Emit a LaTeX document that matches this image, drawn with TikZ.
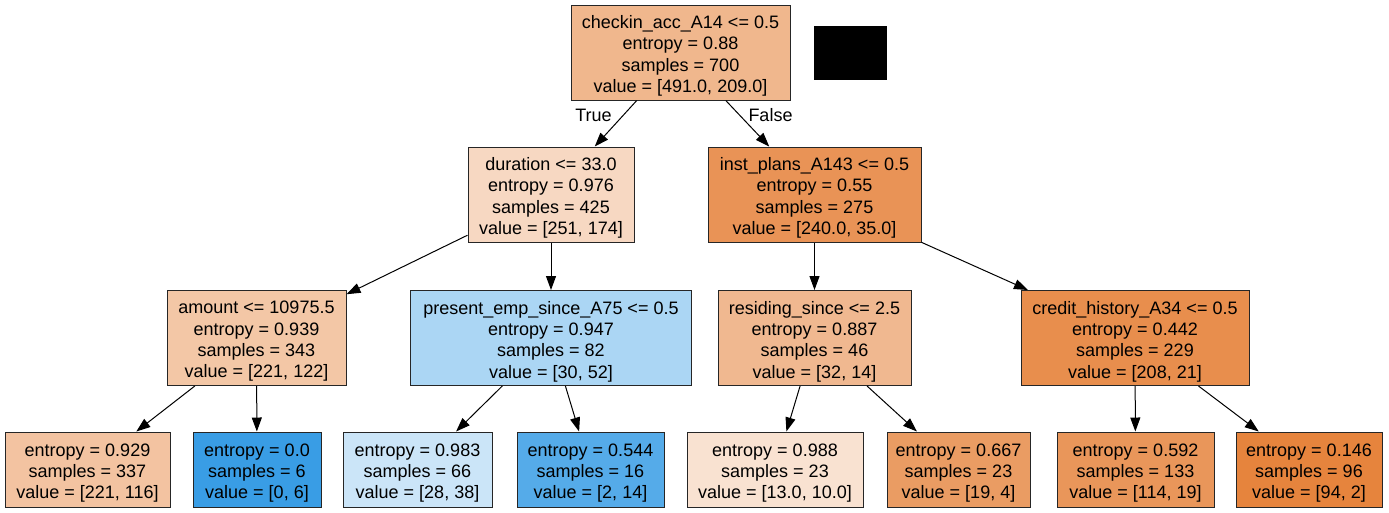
\documentclass[tikz,border=0pt]{standalone}
\usepackage{fontspec}
\setmainfont{Liberation Sans}
\usetikzlibrary{arrows.meta}
\definecolor{cRoot}{RGB}{240,183,141}
\definecolor{cDur}{RGB}{247,216,194}
\definecolor{cInst}{RGB}{233,147,86}
\definecolor{cAmt}{RGB}{243,199,166}
\definecolor{cPres}{RGB}{171,214,244}
\definecolor{cRes}{RGB}{240,184,144}
\definecolor{cCred}{RGB}{232,142,77}
\definecolor{cLa}{RGB}{243,195,161}
\definecolor{cLb}{RGB}{57,157,229}
\definecolor{cLc}{RGB}{203,229,248}
\definecolor{cLd}{RGB}{85,171,233}
\definecolor{cLe}{RGB}{249,226,209}
\definecolor{cLf}{RGB}{234,156,99}
\definecolor{cLg}{RGB}{233,150,90}
\definecolor{cLh}{RGB}{230,132,61}
\begin{document}
\begin{tikzpicture}[x=0.75pt,y=-0.75pt,
  tree/.style={draw=black!85,line width=0.75pt,rectangle,inner sep=0pt},
  txt/.style={label={[inner sep=0pt,align=center,font=\fontsize{13.5}{16}\selectfont,yshift=-2.6pt]center:{#1}}},
  sz/.style 2 args={minimum width=#1*0.75pt,minimum height=#2*0.75pt},
  arr/.style={line width=0.75pt,-{Triangle[length=10.5pt,width=7.5pt]}},
  lbl/.style={font=\fontsize{13.5}{16}\selectfont,inner sep=0pt}]
\useasboundingbox (0,0) rectangle (1389,512);
% level 0
\node[tree,sz={219}{95},fill=cRoot,
  txt={checkin\_acc\_A14 <= 0.5\\entropy = 0.88\\samples = 700\\value = [491.0, 209.0]}] (root) at (680.5,52.5) {};
\fill[black] (814,26) rectangle (887,80);
% level 1
\node[tree,sz={166}{95},fill=cDur,
  txt={duration <= 33.0\\entropy = 0.976\\samples = 425\\value = [251, 174]}] (dur) at (551,194.5) {};
\node[tree,sz={213}{95},fill=cInst,
  txt={inst\_plans\_A143 <= 0.5\\entropy = 0.55\\samples = 275\\value = [240.0, 35.0]}] (inst) at (814.5,194.5) {};
% level 2
\node[tree,sz={179}{95},fill=cAmt,
  txt={amount <= 10975.5\\entropy = 0.939\\samples = 343\\value = [221, 122]}] (amt) at (256.5,338) {};
\node[tree,sz={281}{95},fill=cPres,
  txt={present\_emp\_since\_A75 <= 0.5\\entropy = 0.947\\samples = 82\\value = [30, 52]}] (pres) at (551,338) {};
\node[tree,sz={193}{95},fill=cRes,
  txt={residing\_since <= 2.5\\entropy = 0.887\\samples = 46\\value = [32, 14]}] (res) at (814.5,338) {};
\node[tree,sz={228}{95},fill=cCred,
  txt={credit\_history\_A34 <= 0.5\\entropy = 0.442\\samples = 229\\value = [208, 21]}] (cred) at (1135,338) {};
% leaves
\node[tree,sz={165}{75},fill=cLa,
  txt={entropy = 0.929\\samples = 337\\value = [221, 116]}] (la) at (87.5,469.5) {};
\node[tree,sz={128}{75},fill=cLb,
  txt={entropy = 0.0\\samples = 6\\value = [0, 6]}] (lb) at (257,469.5) {};
\node[tree,sz={149}{75},fill=cLc,
  txt={entropy = 0.983\\samples = 66\\value = [28, 38]}] (lc) at (417.5,469.5) {};
\node[tree,sz={147}{75},fill=cLd,
  txt={entropy = 0.544\\samples = 16\\value = [2, 14]}] (ld) at (590.5,469.5) {};
\node[tree,sz={176}{75},fill=cLe,
  txt={entropy = 0.988\\samples = 23\\value = [13.0, 10.0]}] (le) at (775,469.5) {};
\node[tree,sz={143}{75},fill=cLf,
  txt={entropy = 0.667\\samples = 23\\value = [19, 4]}] (lf) at (958.5,469.5) {};
\node[tree,sz={157}{75},fill=cLg,
  txt={entropy = 0.592\\samples = 133\\value = [114, 19]}] (lg) at (1135.5,469.5) {};
\node[tree,sz={146}{75},fill=cLh,
  txt={entropy = 0.146\\samples = 96\\value = [94, 2]}] (lh) at (1309,469.5) {};
% edges
\draw[arr] (root) -- (dur);
\draw[arr] (root) -- (inst);
\draw[arr] (dur) -- (amt);
\draw[arr] (dur) -- (pres);
\draw[arr] (inst) -- (res);
\draw[arr] (inst) -- (cred);
\draw[arr] (amt) -- (la);
\draw[arr] (amt) -- (lb);
\draw[arr] (pres) -- (lc);
\draw[arr] (pres) -- (ld);
\draw[arr] (res) -- (le);
\draw[arr] (res) -- (lf);
\draw[arr] (cred) -- (lg);
\draw[arr] (cred) -- (lh);
% edge labels
\node[lbl] (ltrue) at (593.5,115) {True};
\node[lbl] (lfalse) at (770.5,115) {False};
\end{tikzpicture}
\end{document}
